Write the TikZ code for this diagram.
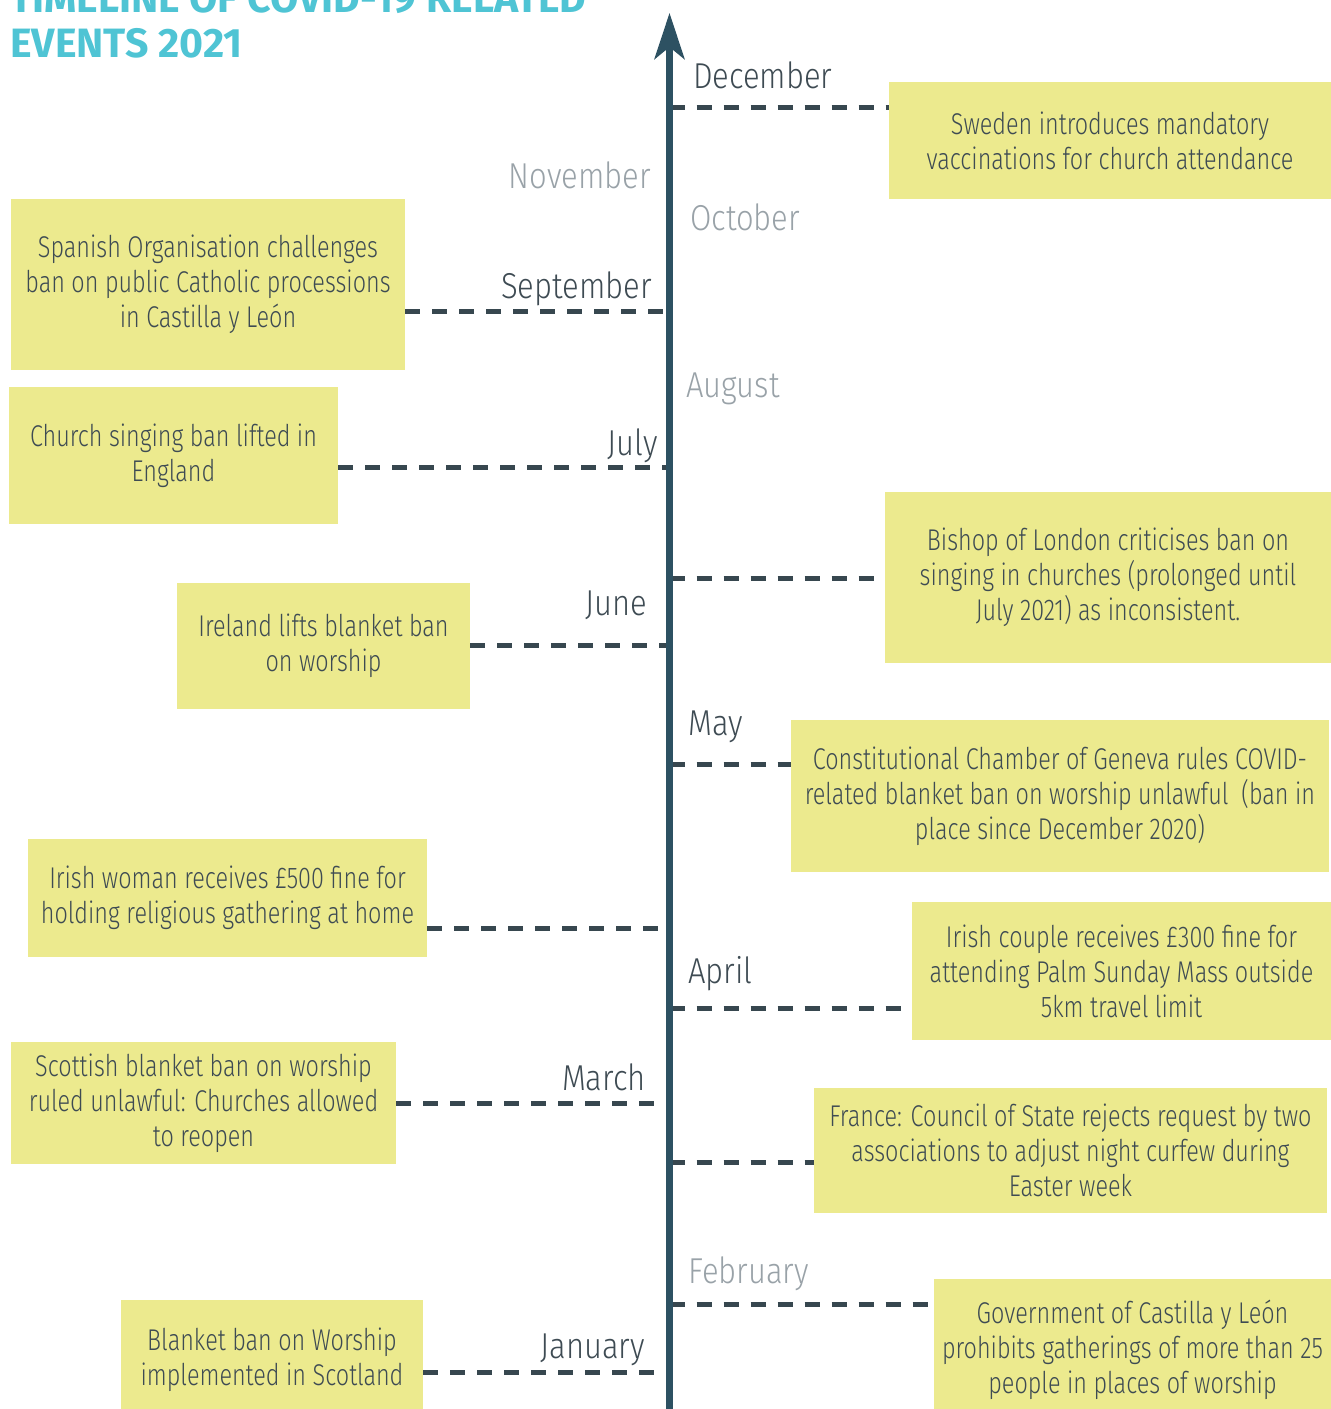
\documentclass[tikz,border=0pt]{standalone}
\usepackage{fontspec}
\setmainfont{Fira Sans Light}[FakeStretch=0.78]
\newfontfamily\monthfont{Fira Sans Light}[FakeStretch=0.86]
\newfontfamily\titlefont{Fira Sans}
\usepackage{xcolor}
\usepackage{tikz}
\usetikzlibrary{arrows.meta}
\definecolor{axisblue}{HTML}{2D5162}
\definecolor{dashgrey}{HTML}{37474F}
\definecolor{textgrey}{HTML}{3E4B53}
\definecolor{monthgrey}{HTML}{99A2A8}
\definecolor{boxyellow}{HTML}{ECEA8E}
\definecolor{titlecyan}{HTML}{4FC4D4}
\tikzstyle{event} = [fill=boxyellow, text=textgrey,
	inner sep=0pt, align=center,
	font=\fontsize{30}{35}\selectfont]
\tikzstyle{month} = [text=textgrey, inner sep=0pt,
	font=\monthfont\fontsize{36}{40}\selectfont]
\tikzstyle{pastmonth} = [month, text=monthgrey]
\tikzstyle{titletext} = [text=titlecyan, inner sep=0pt, anchor=base west,
	font=\titlefont\bfseries\fontsize{41}{45}\selectfont]
\tikzstyle{eventtick} = [dashgrey, line width=5pt, dash pattern=on 15pt off 12pt]
\tikzstyle{timeaxis} = [axisblue, line width=7pt,
	-{Stealth[length=46pt, width=30pt, inset=12pt]}]

\begin{document}
\begin{tikzpicture}[x=1pt, y=-1pt]
			\useasboundingbox (0,0) rectangle (1331,1409);
			
			\node (title1)[titletext] at (10, 12) {TIMELINE OF COVID-19 RELATED};
			\node (title2)[titletext] at (10, 57) {EVENTS 2021};
			
			\node (sweden)[event, minimum width=442pt, minimum height=117pt] at (1110, 140.5)
				{Sweden introduces mandatory\\vaccinations for church attendance};
			\node (spanish)[event, minimum width=394pt, minimum height=171pt] at (208, 284.5)
				{Spanish Organisation challenges\\ban on public Catholic processions\\in Castilla y León};
			\node (church)[event, minimum width=329pt, minimum height=137pt] at (173.5, 455.5)
				{Church singing ban lifted in\\England};
			\node (bishop)[event, minimum width=446pt, minimum height=171pt] at (1108, 577.5)
				{Bishop of London criticises ban on\\singing in churches (prolonged until\\July 2021) as inconsistent.};
			\node (ireland)[event, minimum width=293pt, minimum height=126pt] at (323.5, 646)
				{Ireland lifts blanket ban\\on worship};
			\node (geneva)[event, minimum width=538pt, minimum height=152pt] at (1060, 796)
				{Constitutional Chamber of Geneva rules COVID-\\related blanket ban on worship unlawful ~(ban in\\place since December 2020)};
			\node (woman)[event, minimum width=399pt, minimum height=118pt] at (227.5, 898)
				{Irish woman receives £500 fine for\\holding religious gathering at home};
			\node (couple)[event, minimum width=419pt, minimum height=138pt] at (1121.5, 971)
				{Irish couple receives £300 fine for\\attending Palm Sunday Mass outside\\5km travel limit};
			\node (scottish)[event, minimum width=385pt, minimum height=122pt] at (203.5, 1103)
				{Scottish blanket ban on worship\\ruled unlawful: Churches allowed\\to reopen};
			\node (france)[event, minimum width=513pt, minimum height=125pt] at (1070.5, 1150.5)
				{France: Council of State rejects request by two\\associations to adjust night curfew during\\Easter week};
			\node (government)[event, minimum width=397pt, minimum height=142pt] at (1132.5, 1350)
				{Government of Castilla y León\\prohibits gatherings of more than 25\\people in places of worship};
			\node (blanket)[event, minimum width=302pt, minimum height=120pt] at (272, 1360)
				{Blanket ban on Worship\\implemented in Scotland};
			
			\node (dec)[month, anchor=base west] at (693, 88) {December};
			\node (nov)[pastmonth, anchor=base east] at (651, 188) {November};
			\node (oct)[pastmonth, anchor=base west] at (690, 230) {October};
			\node (sep)[month, anchor=base east] at (652, 298) {September};
			\node (aug)[pastmonth, anchor=base west] at (686, 397) {August};
			\node (jul)[month, anchor=base east] at (658, 455) {July};
			\node (jun)[month, anchor=base east] at (647, 615) {June};
			\node (may)[month, anchor=base west] at (688, 735) {May};
			\node (apr)[month, anchor=base west] at (688, 983) {April};
			\node (mar)[month, anchor=base east] at (646, 1090) {March};
			\node (feb)[pastmonth, anchor=base west] at (688, 1283) {February};
			\node (jan)[month, anchor=base east] at (645, 1358) {January};
			
			\coordinate (tdec) at (669.5, 107);
			\coordinate (tsep) at (669.5, 311);
			\coordinate (tjul) at (669.5, 467);
			\coordinate (tbishop) at (669.5, 578);
			\coordinate (tjun) at (669.5, 645);
			\coordinate (tmay) at (669.5, 764);
			\coordinate (twoman) at (669.5, 928);
			\coordinate (tapr) at (669.5, 1008);
			\coordinate (tmar) at (669.5, 1103);
			\coordinate (tfrance) at (669.5, 1162);
			\coordinate (tfeb) at (669.5, 1304);
			\coordinate (tjan) at (669.5, 1372);
			
			\draw [eventtick] (tdec) -- (tdec -| sweden.west);
			\draw [eventtick] (spanish.east |- tsep) -- (tsep);
			\draw [eventtick] (church.east |- tjul) -- (tjul);
			\draw [eventtick] (tbishop) -- (tbishop -| bishop.west);
			\draw [eventtick] (ireland.east |- tjun) -- (tjun);
			\draw [eventtick] (tmay) -- (tmay -| geneva.west);
			\draw [eventtick] (woman.east |- twoman) -- (twoman);
			\draw [eventtick] (tapr) -- (tapr -| couple.west);
			\draw [eventtick] (scottish.east |- tmar) -- (tmar);
			\draw [eventtick] (tfrance) -- (tfrance -| france.west);
			\draw [eventtick] (tfeb) -- (tfeb -| government.west);
			\draw [eventtick] (blanket.east |- tjan) -- (tjan);
			
			\coordinate (axisbottom) at (669.5, 1409);
			\coordinate (axistop) at (669.5, 13);
			\draw [timeaxis] (axisbottom) -- (axistop);
		\end{tikzpicture}
\end{document}
